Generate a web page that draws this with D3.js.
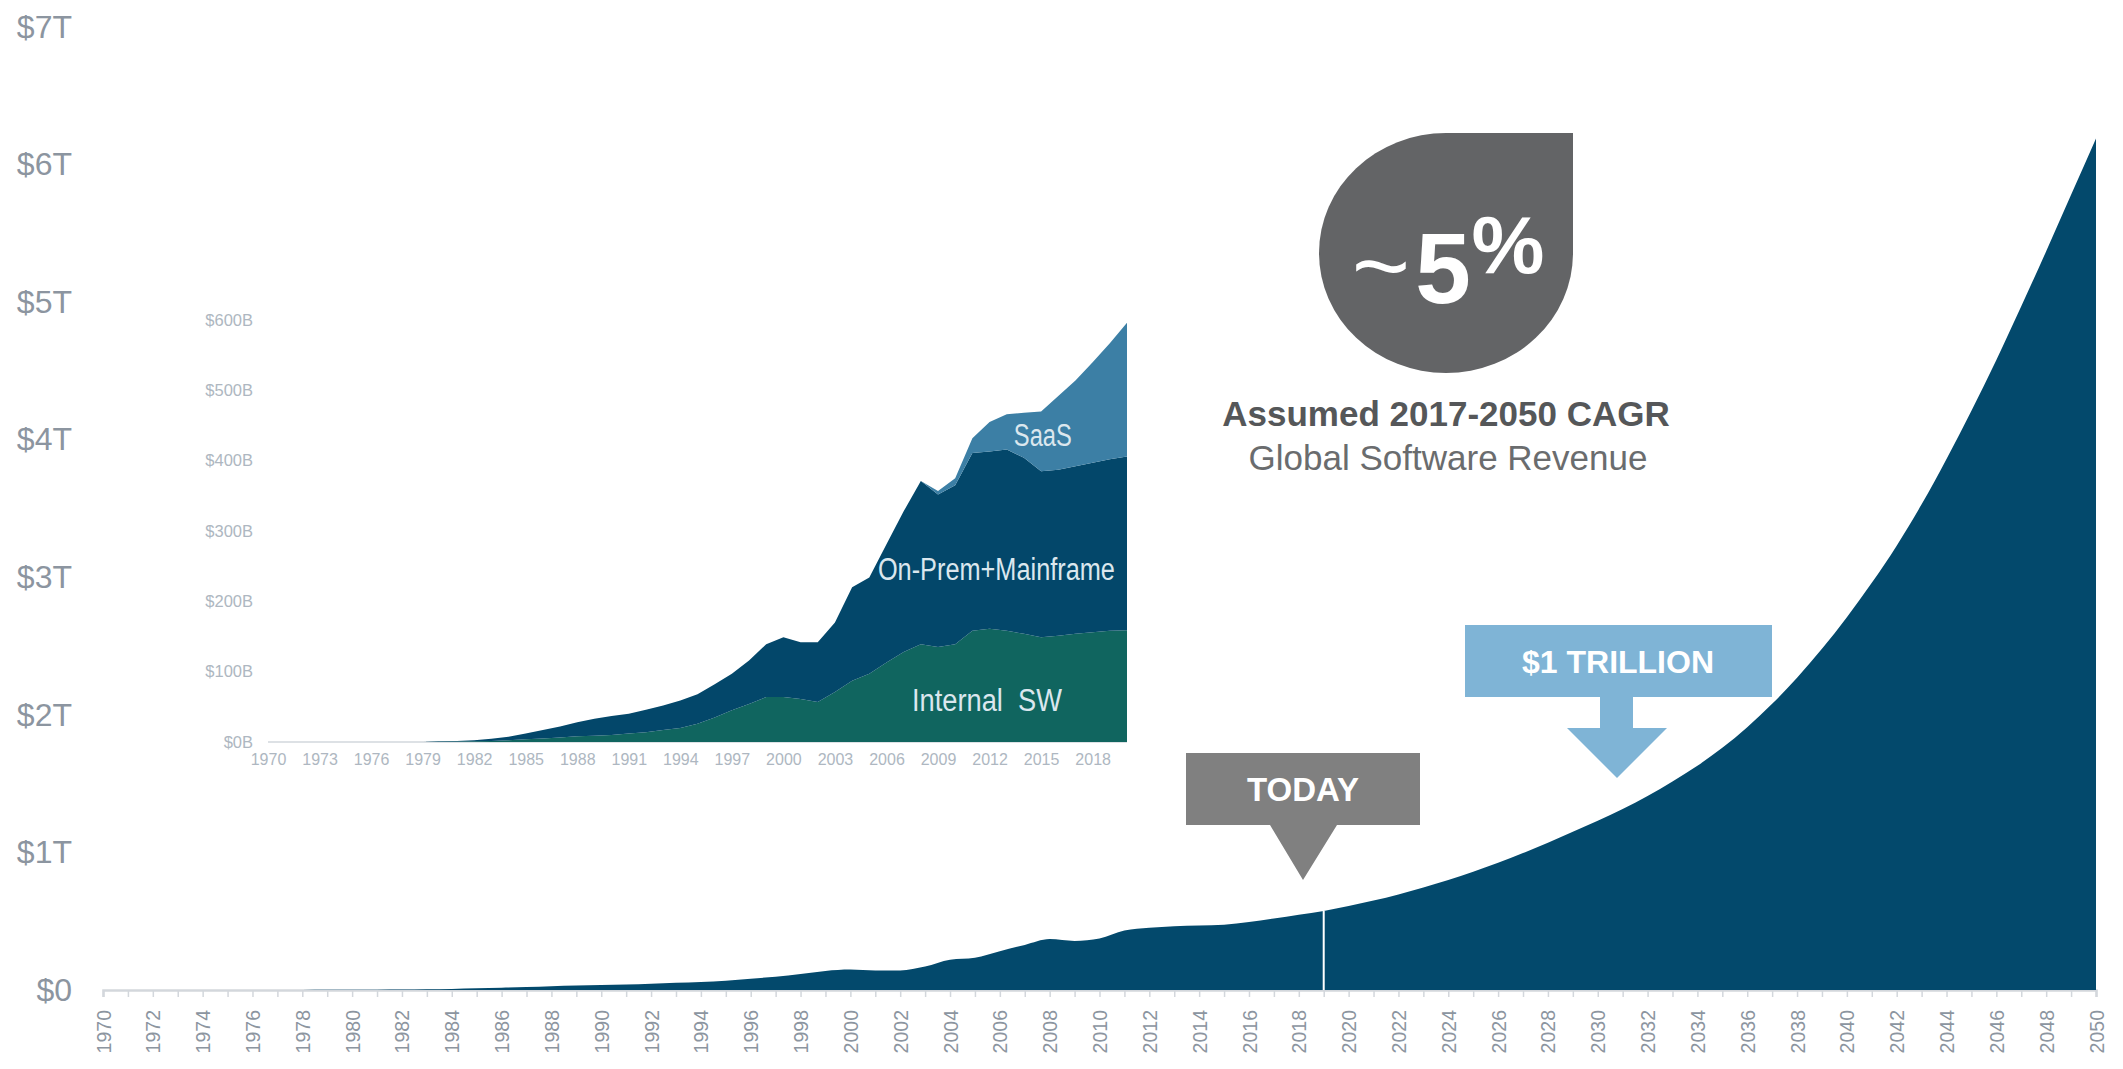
<!DOCTYPE html>
<html><head><meta charset="utf-8">
<script src="https://cdn.jsdelivr.net/npm/d3@7"></script>
<style>
body{margin:0;background:#fff;}
svg{display:block;font-family:"Liberation Sans",Arial,Helvetica,sans-serif;}
</style>
</head><body>
<svg id="chart" width="2123" height="1069"></svg>
<script>
// ---------------- DATA ----------------
const mainStartYear = 1970;
// Global software revenue, $ trillions, 1970..2050 (historical + projection)
const globalRevenueT = [
  0,0,0,0,0,0,0,0,0,                                   // 1970-1978
  0.001,0.001,0.002,0.003,0.005,0.008,0.012,0.017,0.022,// 1979-1987
  0.028,0.033,0.037,0.040,0.046,0.052,0.059,0.068,0.082,0.097, // 1988-1997
  0.116,0.139,0.149,0.142,0.142,0.170,0.220,0.234,0.281,0.328, // 1998-2007
  0.371,0.357,0.375,0.432,0.452,0.464,0.468,0.474,0.494,0.520, // 2008-2017
  0.547,0.575,                                          // 2018-2019
  0.61,0.65,0.695,0.745,0.80,0.86,0.925,0.995,1.07,1.15, // 2020-2029
  1.23,1.315,1.41,1.515,1.63,1.76,1.91,2.08,2.27,2.48, // 2030-2039
  2.71,2.96,3.23,3.53,3.86,4.21,4.58,4.97,5.37,5.78,   // 2040-2049
  6.19                                                  // 2050
];
const yTickValues = [0,1,2,3,4,5,6,7];
const yTickLabels = ["$0","$1T","$2T","$3T","$4T","$5T","$6T","$7T"];
const todayYear = 2019;

// Inset: $ billions, 1970..2020
const insetStartYear = 1970;
const internalSW = [
  0,0,0,0,0,0,0,0,0,0,
  0.3,0.6,1,1.5,2.5,4,5,6.5,8,9,
  10,12,14,17,20,26,35,45,54,64,
  64,61,57,71,87,97,113,128,139,135,
  139,158,161,158,154,149,151,154,156,158,
  159
];
const onPremMainframe = [
  0,0,0,0,0,0,0,0,0,0,
  0.7,0.9,1.5,3,5,8,12,15.5,20,24,
  27,28,32,35,39,42,47,52,62,75,
  85,81,85,99,133,137,168,200,232,217,
  226,253,252,258,250,236,236,238,241,244,
  247
];
const saas = [
  0,0,0,0,0,0,0,0,0,0,
  0,0,0,0,0,0,0,0,0,0,
  0,0,0,0,0,0,0,0,0,0,
  0,0,0,0,0,0,0,0,0,5,
  10,21,42,50,64,85,105,122,143,165,
  190
];
const insetKeys = ["internal","onprem","saas"];
const insetLabels = {internal:"Internal  SW", onprem:"On-Prem+Mainframe", saas:"SaaS"};
const insetYTicks = [0,100,200,300,400,500,600];
const insetXTicks = [1970,1973,1976,1979,1982,1985,1988,1991,1994,1997,2000,2003,2006,2009,2012,2015,2018];

// ---------------- DRAW ----------------
const svg = d3.select("#chart");
const grey = "#8c95a0";
const navy = "#03496c";

const mainData = globalRevenueT.map((v,i)=>({year: mainStartYear+i, v}));
const x = d3.scaleLinear().domain([1970,2050]).range([103,2096]);
const y = d3.scaleLinear().domain([0,7]).range([990,27]);

// x axis
const xAxis = svg.append("g").attr("transform","translate(0,990)")
  .call(d3.axisBottom(x).tickValues(mainData.map(d=>d.year)).tickSize(7)
        .tickFormat(d => d%2===0 ? String(d) : ""));
xAxis.select(".domain").attr("stroke","#d3d7dc").attr("stroke-width",2.5);
xAxis.selectAll(".tick line").attr("stroke","#d3d7dc").attr("stroke-width",1.5);
xAxis.selectAll(".tick text")
  .attr("transform","rotate(-90)")
  .attr("text-anchor","end")
  .attr("x",-20).attr("y",0).attr("dy","0.36em")
  .attr("fill",grey).attr("font-size",19.5)
  .attr("font-family","'Liberation Sans',Arial,sans-serif");

// y axis
const yAxis = svg.append("g").attr("transform","translate(80,0)")
  .call(d3.axisLeft(y).tickValues(yTickValues).tickSize(0).tickPadding(8)
        .tickFormat((d,i)=>yTickLabels[i]));
yAxis.select(".domain").remove();
yAxis.selectAll("text").attr("fill",grey).attr("font-size",32)
  .attr("font-family","'Liberation Sans',Arial,sans-serif");

// main area
const area = d3.area().x(d=>x(d.year)).y0(y(0)).y1(d=>y(d.v)).curve(d3.curveMonotoneX);
svg.append("path").datum(mainData).attr("d",area).attr("fill",navy);

// today line
const todayVal = mainData.find(d=>d.year===todayYear).v;
svg.append("line").attr("x1",x(todayYear)).attr("x2",x(todayYear))
  .attr("y1",y(todayVal)).attr("y2",y(0)).attr("stroke","#fff").attr("stroke-width",2);

// ---------- inset ----------
const xi = d3.scaleLinear().domain([1970,2020]).range([268,1127]);
const yi = d3.scaleLinear().domain([0,600]).range([742,320]);
const insetData = internalSW.map((v,i)=>({year: insetStartYear+i, internal:v, onprem:onPremMainframe[i], saas:saas[i]}));
const stack = d3.stack().keys(insetKeys)(insetData);
const insetColors = {internal:"#10655f", onprem:"#03476a", saas:"#3c7fa5"};

svg.append("line").attr("x1",xi(1970)).attr("x2",xi(2020)).attr("y1",yi(0)).attr("y2",yi(0))
  .attr("stroke","#dde1e5").attr("stroke-width",2);

const ia = d3.area().x(d=>xi(d.data.year)).y0(d=>yi(d[0])).y1(d=>yi(d[1]));
svg.append("g").selectAll("path").data(stack).join("path")
  .attr("d",ia).attr("fill",d=>insetColors[d.key]);

const iy = svg.append("g").attr("transform","translate(253,0)")
  .call(d3.axisLeft(yi).tickValues(insetYTicks).tickSize(0).tickPadding(0).tickFormat(d=>"$"+d+"B"));
iy.select(".domain").remove();
iy.selectAll("text").attr("fill","#aeb7c1").attr("font-size",16.5)
  .attr("font-family","'Liberation Sans',Arial,sans-serif");

const ix = svg.append("g").attr("transform","translate(0,"+yi(0)+")")
  .call(d3.axisBottom(xi).tickValues(insetXTicks).tickSize(0).tickPadding(12).tickFormat(d=>String(d)));
ix.select(".domain").remove();
ix.selectAll("text").attr("fill","#aeb7c1").attr("font-size",16)
  .attr("font-family","'Liberation Sans',Arial,sans-serif");

// inset layer labels
const labelPos = {saas:[2015.1,438,58], onprem:[2012.4,572,237], internal:[2011.85,703,150]};
insetKeys.forEach(k=>{
  svg.append("text").attr("x",xi(labelPos[k][0])).attr("y",labelPos[k][1])
    .attr("text-anchor","middle").attr("dominant-baseline","middle")
    .attr("fill","#dbe7ee").attr("font-size",31)
    .attr("textLength",labelPos[k][2]).attr("lengthAdjust","spacingAndGlyphs")
    .style("white-space","pre")
    .text(insetLabels[k]);
});

// ---------- ~5% drop ----------
const cx=1446, cy=253, rx=127, ry=120;
svg.append("path")
  .attr("d",`M${cx-rx},${cy} A${rx},${ry} 0 0 1 ${cx},${cy-ry} L${cx+rx},${cy-ry} L${cx+rx},${cy} A${rx},${ry} 0 0 1 ${cx},${cy+ry} A${rx},${ry} 0 0 1 ${cx-rx},${cy} Z`)
  .attr("fill","#636466");
svg.append("text").attr("x",1381).attr("y",300).attr("text-anchor","middle")
  .attr("fill","#fff").attr("font-size",100).text("~");
svg.append("text").attr("x",1443).attr("y",303).attr("text-anchor","middle")
  .attr("fill","#fff").attr("font-size",100).attr("font-weight","bold").text("5");
svg.append("text").attr("x",1508).attr("y",273).attr("text-anchor","middle")
  .attr("fill","#fff").attr("font-size",82).attr("font-weight","bold").text("%");
svg.append("text").attr("x",1446).attr("y",426).attr("text-anchor","middle")
  .attr("fill","#555759").attr("font-size",35).attr("font-weight","bold").text("Assumed 2017-2050 CAGR");
svg.append("text").attr("x",1448).attr("y",470).attr("text-anchor","middle")
  .attr("fill","#6a6c6e").attr("font-size",35).text("Global Software Revenue");

// ---------- TODAY callout ----------
svg.append("path")
  .attr("d","M1186,753 L1420,753 L1420,825 L1337,825 L1303,880 L1270,825 L1186,825 Z")
  .attr("fill","#808080");
svg.append("text").attr("x",1303).attr("y",801).attr("text-anchor","middle")
  .attr("fill","#fff").attr("font-size",33).attr("font-weight","bold").text("TODAY");

// ---------- $1 TRILLION callout ----------
svg.append("path")
  .attr("d","M1465,625 L1772,625 L1772,697 L1633,697 L1633,728 L1667,728 L1617,778 L1567,728 L1600,728 L1600,697 L1465,697 Z")
  .attr("fill","#7fb4d6");
svg.append("text").attr("x",1618).attr("y",673).attr("text-anchor","middle")
  .attr("fill","#fff").attr("font-size",32).attr("font-weight","bold").text("$1 TRILLION");
</script>
</body></html>
